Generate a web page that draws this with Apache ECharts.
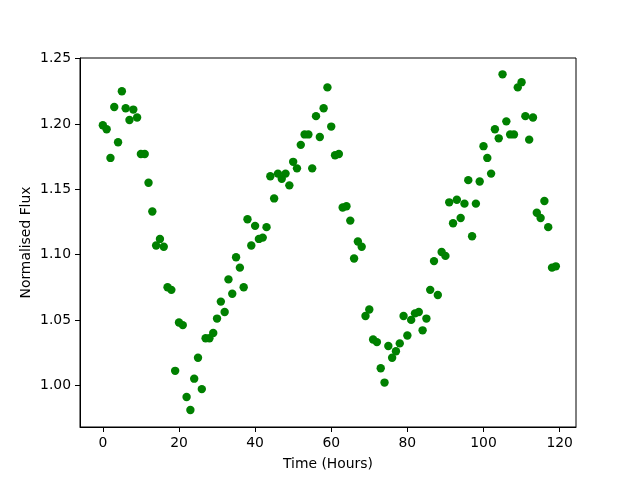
<!DOCTYPE html>
<html>
<head>
<meta charset="utf-8">
<title>Normalised Flux</title>
<script src="https://cdn.jsdelivr.net/npm/echarts@6/dist/echarts.min.js"></script>
<style>
  html, body { margin: 0; padding: 0; background: #fff; }
</style>
</head>
<body>
    <div id="main" style="width: 640px; height: 480px;"></div>

    <script type="text/javascript">
        // hours 0..119, one reading each
        var hours = [];
        for (var i = 0; i < 120; i++) hours.push(i);

        var flux = [
            1.199, 1.196, 1.174, 1.213, 1.186, 1.225, 1.212, 1.203, 1.211, 1.205,
            1.177, 1.177, 1.155, 1.133, 1.107, 1.112, 1.106, 1.075, 1.073, 1.011,
            1.048, 1.046, 0.991, 0.981, 1.005, 1.021, 0.997, 1.036, 1.036, 1.040,
            1.051, 1.064, 1.056, 1.081, 1.070, 1.098, 1.090, 1.075, 1.127, 1.107,
            1.122, 1.112, 1.113, 1.121, 1.160, 1.143, 1.162, 1.158, 1.162, 1.153,
            1.171, 1.166, 1.184, 1.192, 1.192, 1.166, 1.206, 1.190, 1.212, 1.228,
            1.198, 1.176, 1.177, 1.136, 1.137, 1.126, 1.097, 1.110, 1.106, 1.053,
            1.058, 1.035, 1.033, 1.013, 1.002, 1.030, 1.021, 1.026, 1.032, 1.053,
            1.038, 1.050, 1.055, 1.056, 1.042, 1.051, 1.073, 1.095, 1.069, 1.102,
            1.099, 1.140, 1.124, 1.142, 1.128, 1.139, 1.157, 1.114, 1.139, 1.156,
            1.183, 1.174, 1.162, 1.196, 1.189, 1.238, 1.202, 1.192, 1.192, 1.228,
            1.232, 1.206, 1.188, 1.205, 1.132, 1.128, 1.141, 1.121, 1.090, 1.091
        ];

        var xTicks = [0, 20, 40, 60, 80, 100, 120];
        var yTicks = [1.00, 1.05, 1.10, 1.15, 1.20, 1.25];

        var points = hours.map(function(h, i) { return [h, flux[i]]; });

        var font = 'DejaVu Sans';
        var myChart = echarts.init(document.getElementById('main'));
        var option = {
            animation: false,
            backgroundColor: '#fff',
            grid: {
                left: 80, right: 64, top: 58, bottom: 53,
                show: true, borderColor: '#000', borderWidth: 1
            },
            xAxis: {
                type: 'value',
                min: -6, max: 124.3,
                name: 'Time (Hours)',
                nameLocation: 'middle',
                nameGap: 30,
                nameMoveOverlap: false,
                nameTextStyle: { fontFamily: font, fontSize: 13.9, color: '#000' },
                splitLine: { show: false },
                axisLine: { show: true, onZero: false, lineStyle: { color: '#000' } },
                axisTick: { show: true, length: 5, customValues: xTicks, lineStyle: { color: '#000' } },
                axisLabel: { customValues: xTicks, margin: 9, fontFamily: font, fontSize: 13.9, color: '#000' }
            },
            yAxis: {
                type: 'value',
                min: 0.968, max: 1.2505,
                name: 'Normalised Flux',
                nameLocation: 'middle',
                nameGap: 47,
                nameMoveOverlap: false,
                nameTextStyle: { fontFamily: font, fontSize: 13.9, color: '#000' },
                splitLine: { show: false },
                axisLine: { show: true, onZero: false, lineStyle: { color: '#000' } },
                axisTick: { show: true, length: 5, customValues: yTicks, lineStyle: { color: '#000' } },
                axisLabel: {
                    customValues: yTicks, margin: 9, fontFamily: font, fontSize: 13.9, color: '#000',
                    formatter: function(v) { return v.toFixed(2); }
                }
            },
            series: [{
                type: 'scatter',
                data: points,
                symbol: 'circle',
                symbolSize: 8.4,
                itemStyle: { color: '#008000', opacity: 1 }
            }]
        };
        myChart.setOption(option);
    </script>
</body>
</html>
